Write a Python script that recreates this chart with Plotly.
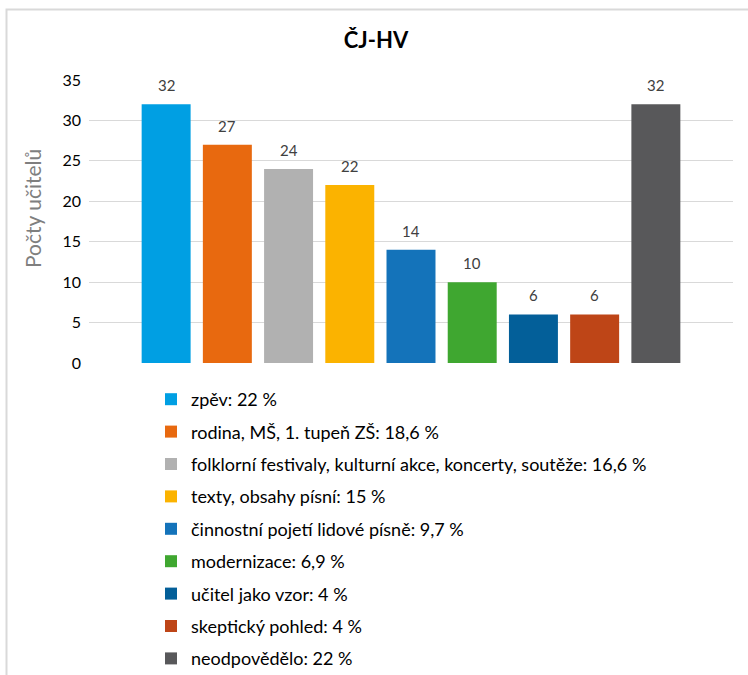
import plotly.graph_objects as go

# data
categories = [
    "zpěv: 22 %",
    "rodina, MŠ, 1. tupeň ZŠ: 18,6 %",
    "folklorní festivaly, kulturní akce, koncerty, soutěže: 16,6 %",
    "texty, obsahy písní: 15 %",
    "činnostní pojetí lidové písně: 9,7 %",
    "modernizace: 6,9 %",
    "učitel jako vzor: 4 %",
    "skeptický pohled: 4 %",
    "neodpovědělo: 22 %",
]
counts = [32, 27, 24, 22, 14, 10, 6, 6, 32]
colors = ["#009FE3", "#E8690F", "#B1B1B1", "#FBB300", "#1473BA",
          "#3FA730", "#035F99", "#BE4517", "#58585A"]
y_ticks = [0, 5, 10, 15, 20, 25, 30, 35]

W, H = 748, 675
L, R, T, B = 89, 15, 80, 312  # plot area margins in px

FONT = "Lato, 'Open Sans', sans-serif"

fig = go.Figure()
for i, (name, val, col) in enumerate(zip(categories, counts, colors)):
    fig.add_trace(go.Bar(
        x=[i], y=[val], name=name, width=0.8,
        marker=dict(color=col, line_width=0),
        legendgroup=f"g{i}", hoverinfo="y+name",
    ))
    # value label sitting above the bar
    fig.add_annotation(x=i, y=val, text=str(val), showarrow=False,
                       yanchor="bottom", yshift=8,
                       font=dict(size=15, color="#404040", family=FONT))

pw = W - L - R
ph = H - T - B

def px_x(x):
    return (x - L) / pw

def px_y(y):
    return (H - B - y) / ph

# y axis title as a rotated annotation (axis title misbehaves with autoexpand off)
fig.add_annotation(text="Počty učitelů", textangle=-90, showarrow=False,
                   xref="paper", yref="paper", x=px_x(32), y=px_y(209),
                   xanchor="center", yanchor="middle",
                   font=dict(size=21, color="#7F7F7F", family=FONT))

fig.update_layout(
    width=W, height=H,
    margin=dict(l=L, r=R, t=T, b=B, autoexpand=False),
    barmode="overlay",
    paper_bgcolor="white", plot_bgcolor="white",
    font=dict(family=FONT, color="#404040"),
    title=dict(text="<b>ČJ-HV</b>", x=376 / W, xref="container", xanchor="center",
               y=1 - 40 / H, yanchor="middle",
               font=dict(size=22, color="#000000", family=FONT)),
    showlegend=True,
    legend=dict(
        x=151 / W, y=1 - 381 / H, xref="container", yref="container",
        xanchor="left", yanchor="top",
        orientation="v", tracegroupgap=6, traceorder="grouped",
        font=dict(size=18, color="#000000", family=FONT),
        itemwidth=30, bgcolor="rgba(0,0,0,0)",
    ),
    shapes=[dict(type="rect", xref="paper", yref="paper",
                 x0=px_x(6.5), x1=px_x(780), y0=px_y(720), y1=px_y(9.5),
                 line=dict(color="#D9D9D9", width=2), layer="below")],
)
fig.update_xaxes(range=[-1.26, 9.26], showticklabels=False, showgrid=False,
                 zeroline=False, showline=False, fixedrange=True)
fig.update_yaxes(range=[0, 35], tickvals=y_ticks, showgrid=True,
                 gridcolor="#D9D9D9", gridwidth=1, zeroline=False,
                 showline=False, ticks="", ticklabelstandoff=7,
                 tickfont=dict(size=16, color="#000000", family=FONT))

# drop the default body margin so the figure fills the window
fig.write_html("out.html", config={"displayModeBar": False},
               post_script="document.body.style.margin='0';")
